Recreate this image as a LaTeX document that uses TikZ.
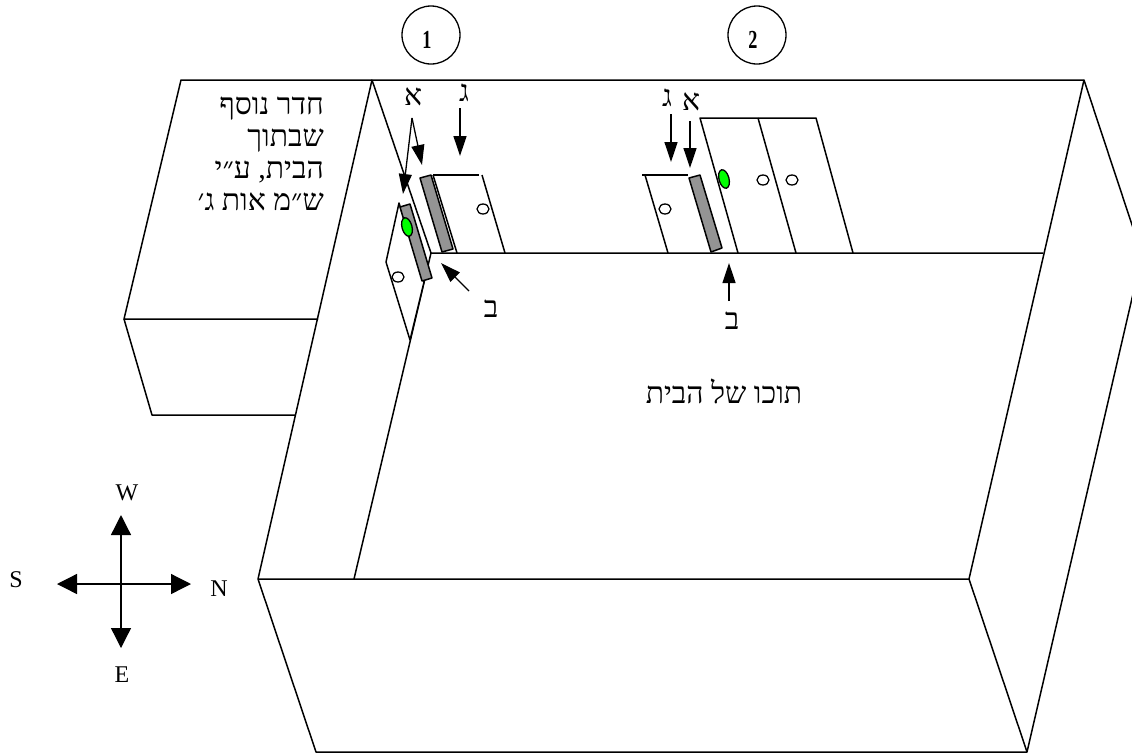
\documentclass[tikz,border=0pt]{standalone}
\usepackage{graphicx}
\usepackage{fontspec}
\setmainfont{Liberation Serif}
\newfontfamily\hebfont[Script=Hebrew]{Liberation Serif}
\TeXXeTstate=1
\usetikzlibrary{arrows.meta,shapes.geometric}
\tikzset{
  wall/.style={line width=1.5pt, line join=round},
  door/.style={line width=1.5pt, line join=round, fill=white},
  strip/.style={line width=1.5pt, line join=round, fill=black!42},
  pointer/.style={line width=1.3pt, -{Triangle[length=20pt, width=13pt]}},
  compass/.style={line width=1.3pt, {Triangle[length=20pt, width=20pt]}-{Triangle[length=20pt, width=20pt]}},
  hole/.style={ellipse, draw, line width=1.3pt, fill=white, inner sep=0pt, minimum width=12, minimum height=10},
  handle/.style={ellipse, draw, line width=1.3pt, fill=green, inner sep=0pt, minimum width=10, minimum height=19},
  letter/.style={inner sep=0pt, font=\hebfont\fontsize{30}{30}\selectfont},
  wind/.style={inner sep=0pt, font=\fontsize{24}{24}\selectfont},
  number/.style={circle, draw, line width=1.3pt, inner sep=0pt, minimum size=58},
  digit/.style={inner sep=0pt, font=\bfseries\fontsize{26}{26}\selectfont}
}
\begin{document}
\begin{tikzpicture}[x=1pt, y=-1pt]
  \path[use as bounding box, clip] (0,0) rectangle (1132,753);
%
  % outer box of the house
  \draw[wall] (372,80) -- (1084,80) -- (1142,255) -- (1027,752) -- (316,752) -- (258,579) -- cycle;
  \draw[wall] (258,579) -- (969,579) -- (1027,752);
  \draw[wall] (372,80) -- (431,253) -- (1043,253);
  \draw[wall] (1084,80) -- (969,579);
  \draw[wall] (431,253) -- (354,579);
%
  % extra room on the left
  \draw[wall] (372,80) -- (181,80) -- (124,319) -- (318,319);
  \draw[wall] (124,319) -- (152,415) -- (295,415);
%
  % door 1
  \draw[door] (399,203) -- (386,262) -- (410,340) -- (424,282) -- cycle;
  \draw[strip] (400,207) -- (410,204) -- (432,278) -- (422,281) -- cycle;
  \node[handle, rotate=15] (HandleOne) at (407,227) {};
  \node[hole] (HoleOne) at (398,277) {};
  \draw[wall] (433,175) -- (479,175);
  \draw[wall] (482,175) -- (505,253);
  \draw[wall] (433,175) -- (457,253);
  \draw[strip] (420,178) -- (431,175) -- (453,249) -- (442,252) -- cycle;
  \node[hole] (HoleTwo) at (483,209) {};
%
  % door 2
  \draw[wall] (642,175) -- (688,175);
  \draw[wall] (645,175) -- (668,253);
  \node[hole] (HoleThree) at (665,209) {};
  \draw[strip] (689,178) -- (700,175) -- (722,248) -- (711,252) -- cycle;
  \draw[wall] (738,253) -- (700,118) -- (816,118) -- (853,253);
  \draw[wall] (758,118) -- (796,253);
  \node[handle, rotate=15] (HandleTwo) at (724,179) {};
  \node[hole] (HoleFour) at (763,180) {};
  \node[hole] (HoleFive) at (792,180) {};
%
  % pointers
  \coordinate (AlefFrom) at (412,118);
  \coordinate (AlefLow) at (403,194);
  \coordinate (AlefHigh) at (422,165);
  \coordinate (GimelFrom) at (460,108);
  \coordinate (GimelTo) at (460,156);
  \coordinate (BetFrom) at (469,291);
  \coordinate (BetTo) at (441,263);
  \draw[pointer] (AlefFrom) -- (AlefLow);
  \draw[pointer] (AlefFrom) -- (AlefHigh);
  \draw[pointer] (GimelFrom) -- (GimelTo);
  \draw[pointer] (BetFrom) -- (BetTo);
  \coordinate (GimelTwoFrom) at (671,114);
  \coordinate (GimelTwoTo) at (671,162);
  \coordinate (AlefTwoFrom) at (690,121);
  \coordinate (AlefTwoTo) at (690,168);
  \coordinate (BetTwoFrom) at (729,301);
  \coordinate (BetTwoTo) at (729,263);
  \draw[pointer] (GimelTwoFrom) -- (GimelTwoTo);
  \draw[pointer] (AlefTwoFrom) -- (AlefTwoTo);
  \draw[pointer] (BetTwoFrom) -- (BetTwoTo);
%
  % letters
  \node[letter] (AlefOne) at (413,97) {\beginR א\endR};
  \node[letter] (GimelOne) at (464,93) {\beginR ג\endR};
  \node[letter] (BetOne) at (491,309) {\beginR ב\endR};
  \node[letter] (GimelTwo) at (667,98) {\beginR ג\endR};
  \node[letter] (AlefTwo) at (691,102) {\beginR א\endR};
  \node[letter] (BetTwo) at (732,321) {\beginR ב\endR};
%
  % texts
  \node[inner sep=0pt, align=right, anchor=north east, font=\hebfont\fontsize{30}{32}\selectfont] (RoomText) at (324,97) %
    {\beginR חדר נוסף\endR\\ \beginR שבתוך\endR\\ \beginR הבית, ע״י\endR\\ \beginR ש״מ אות ג׳\endR};
  \node[letter] (InsideText) at (724,391) {\beginR תוכו של הבית\endR};
%
  % numbers
  \node[number] (DoorOne) at (431,35) {};
  \node[number] (DoorTwo) at (757,35) {};
  \node[digit] (DigitOne) at (427,40) {\scalebox{0.7}[1]{1}};
  \node[digit] (DigitTwo) at (753,40) {\scalebox{0.7}[1]{2}};
%
  % compass
  \coordinate (WestEnd) at (121,515);
  \coordinate (EastEnd) at (121,648);
  \coordinate (SouthEnd) at (57,584);
  \coordinate (NorthEnd) at (191,584);
  \draw[compass] (WestEnd) -- (EastEnd);
  \draw[compass] (SouthEnd) -- (NorthEnd);
  \node[wind] (West) at (127,493) {W};
  \node[wind] (East) at (122,675) {E};
  \node[wind] (South) at (16,580) {S};
  \node[wind] (North) at (219,589) {N};
\end{tikzpicture}
\end{document}
